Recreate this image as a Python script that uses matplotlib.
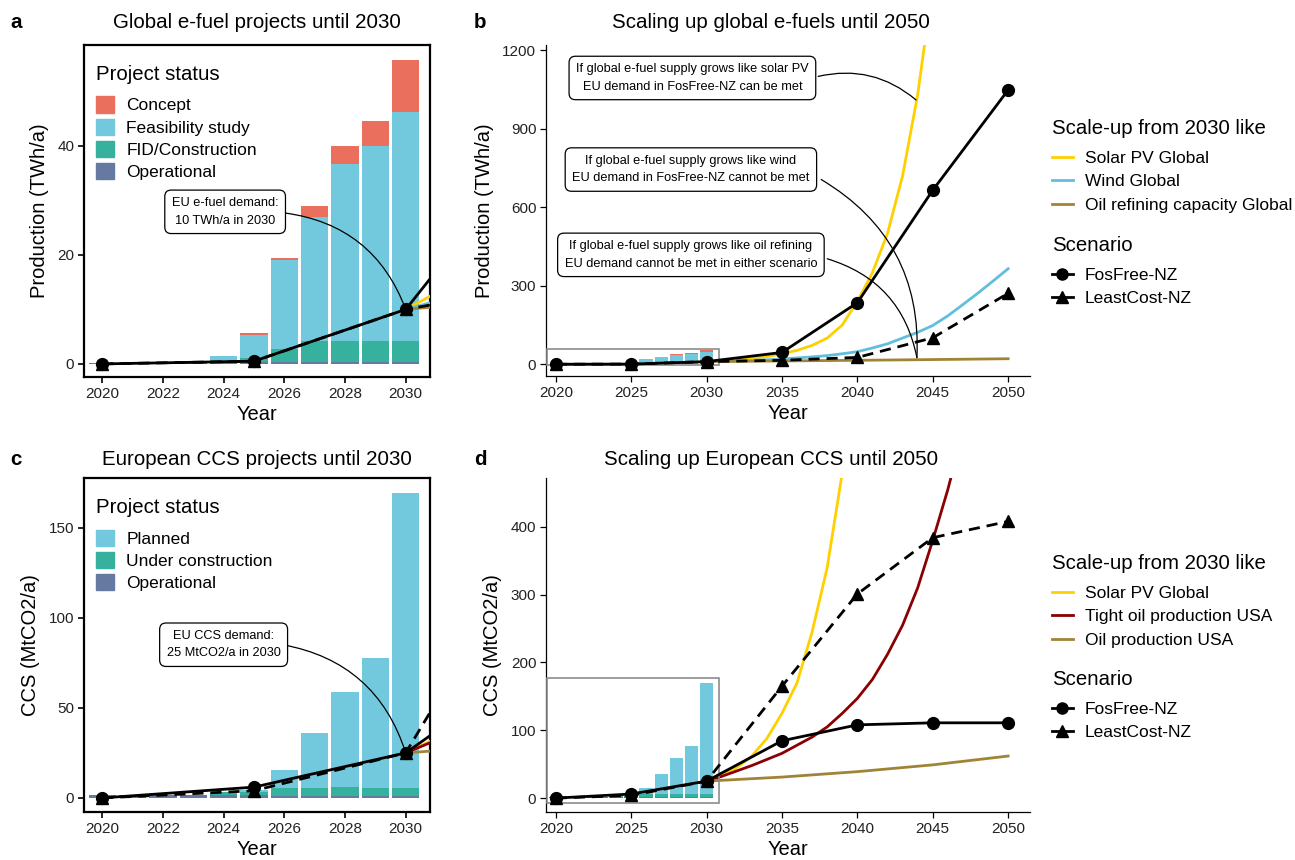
import matplotlib
matplotlib.use("Agg")
import matplotlib.pyplot as plt
from matplotlib.patches import Patch, Rectangle
from matplotlib.lines import Line2D

plt.rcParams['font.family'] = ['Liberation Sans', 'DejaVu Sans']

# --- project pipeline (bars) ---
years = [2020, 2021, 2022, 2023, 2024, 2025, 2026, 2027, 2028, 2029, 2030]

ef_operational = [0.15, 0.15, 0.15, 0.1, 0.1, 0.3, 0.4, 0.4, 0.4, 0.4, 0.4]
ef_fid = [0, 0, 0, 0, 0, 0.8, 2.3, 3.8, 3.8, 3.8, 3.8]
ef_feasibility = [0, 0, 0, 0, 1.3, 4.2, 16.4, 22.7, 32.4, 35.7, 42.1]
ef_concept = [0, 0, 0, 0, 0, 0.4, 0.4, 2.1, 3.4, 4.6, 9.5]

ccs_operational = [1.5, 1.5, 1.5, 1.5, 1.5, 1.5, 1.2, 1.2, 1.2, 1.2, 1.2]
ccs_construction = [0, 0, 0, 0, 2.0, 2.0, 4.3, 4.3, 5.0, 4.3, 4.3]
ccs_planned = [0, 0, 0, 0, 0, 1.0, 10.0, 30.5, 52.5, 72.0, 163.5]

# --- scenario demand ---
scen_years = [2020, 2025, 2030, 2035, 2040, 2045, 2050]
ef_fosfree = [0, 0.5, 10, 45, 235, 665, 1048]
ef_leastcost = [0, 0.5, 10, 15, 26, 101, 271]
ccs_fosfree = [0, 6, 25, 84.5, 108, 111, 111]
ccs_leastcost = [0, 4, 25, 165, 301, 384, 408]

# --- historical analogues, scaled from 2030 ---
solar_ef_years = list(range(2030, 2046))
solar_ef = [10, 13, 17, 22, 29, 40, 53, 72, 100, 150, 240, 350, 500, 720, 1030, 1450]
wind_ef_years = list(range(2030, 2051))
wind_ef = [10, 11.5, 13, 15, 17, 20, 24, 28, 33, 40, 48, 62, 78, 100, 122, 148,
           185, 228, 272, 318, 365]
refining_years = [2030, 2035, 2040, 2045, 2050]
refining_ef = [10, 12.5, 15, 17.8, 21]

solar_ccs_years = list(range(2030, 2040))
solar_ccs = [25, 33, 45, 62, 88, 125, 170, 245, 340, 480]
tight_oil_years = list(range(2030, 2048))
tight_oil_ccs = [25, 32, 40, 48, 57, 66, 78, 90, 105, 125, 147, 175, 212, 255,
                 310, 380, 455, 540]
oil_prod_years = [2030, 2035, 2040, 2045, 2050]
oil_prod_ccs = [25, 31, 39, 49, 62]

C_CONCEPT = '#EA6F5D'
C_FEAS = '#72C9DD'
C_FID = '#36B19D'
C_OPER = '#6579A1'
C_SOLAR = '#FFD000'
C_WIND = '#62BEDD'
C_OIL = '#A08436'
C_TIGHT = '#8B0000'

A_XLIM = (2019.4, 2030.8)
A_YLIM = (-2.4, 58.5)
C_YLIM = (-7.8, 177.5)
B_XLIM = (2019.35, 2051.45)
B_YLIM = (-45, 1220)
D_YLIM = (-20.5, 472)

FS_TITLE = 14.8
FS_AXIS = 14.5
FS_TICK = 11
FS_LEG_TITLE = 14.7
FS_LEG = 12.5
FS_NOTE = 9.2

W, H = 1295, 860
fig = plt.figure(figsize=(W / 100, H / 100), dpi=100)


def px_axes(l, t, r, b):
    return fig.add_axes([l / W, 1 - b / H, (r - l) / W, (b - t) / H])


ax_a = px_axes(84, 45, 430, 377)
ax_b = px_axes(546, 45, 1030, 376)
ax_c = px_axes(84, 478, 430, 812)
ax_d = px_axes(546, 478, 1030, 812)


def stack_bars(ax, layers):
    bottom = [0] * len(years)
    for vals, col in layers:
        ax.bar(years, vals, width=0.9, bottom=bottom, color=col, linewidth=0, zorder=2)
        bottom = [b + v for b, v in zip(bottom, vals)]


ef_layers = [(ef_operational, C_OPER), (ef_fid, C_FID),
             (ef_feasibility, C_FEAS), (ef_concept, C_CONCEPT)]
ccs_layers = [(ccs_operational, C_OPER), (ccs_construction, C_FID),
              (ccs_planned, C_FEAS)]


def scenario_lines(ax, fos, least):
    ax.plot(scen_years, least, color='black', lw=2, ls=(0, (4, 2.5)),
            marker='^', ms=8, zorder=5)
    ax.plot(scen_years, fos, color='black', lw=2, marker='o', ms=8.5, zorder=6)


def style(ax, boxed):
    for s in ['top', 'right']:
        ax.spines[s].set_visible(boxed)
    for s in ax.spines.values():
        s.set_linewidth(1.6 if boxed else 0.9)
        s.set_color('black')
    ax.tick_params(labelsize=FS_TICK, length=4, width=0.9 if not boxed else 1.2,
                   colors='black', labelcolor='#222222', pad=3)
    ax.set_xlabel('Year', fontsize=FS_AXIS, labelpad=3)


# panel a
stack_bars(ax_a, ef_layers)
ax_a.plot(solar_ef_years, solar_ef, color=C_SOLAR, lw=2, zorder=3)
ax_a.plot(wind_ef_years, wind_ef, color=C_WIND, lw=2, zorder=3)
ax_a.plot(refining_years, refining_ef, color=C_OIL, lw=2, zorder=3)
scenario_lines(ax_a, ef_fosfree, ef_leastcost)
ax_a.set_xlim(*A_XLIM)
ax_a.set_ylim(*A_YLIM)
ax_a.set_xticks([2020, 2022, 2024, 2026, 2028, 2030])
ax_a.set_yticks([0, 20, 40])
ax_a.set_ylabel('Production (TWh/a)', fontsize=FS_AXIS, labelpad=6)
style(ax_a, True)

# panel b
stack_bars(ax_b, ef_layers)
ax_b.add_patch(Rectangle((A_XLIM[0], A_YLIM[0]), A_XLIM[1] - A_XLIM[0],
                         A_YLIM[1] - A_YLIM[0], fill=False, ec='#8c8c8c', lw=1.2, zorder=4))
ax_b.plot(solar_ef_years, solar_ef, color=C_SOLAR, lw=2, zorder=3)
ax_b.plot(wind_ef_years, wind_ef, color=C_WIND, lw=2, zorder=3)
ax_b.plot(refining_years, refining_ef, color=C_OIL, lw=2, zorder=3)
scenario_lines(ax_b, ef_fosfree, ef_leastcost)
ax_b.set_xlim(*B_XLIM)
ax_b.set_ylim(*B_YLIM)
ax_b.set_xticks([2020, 2025, 2030, 2035, 2040, 2045, 2050])
ax_b.set_yticks([0, 300, 600, 900, 1200])
ax_b.set_ylabel('Production (TWh/a)', fontsize=FS_AXIS, labelpad=6)
style(ax_b, False)

# panel c
stack_bars(ax_c, ccs_layers)
ax_c.plot(solar_ccs_years, solar_ccs, color=C_SOLAR, lw=2, zorder=3)
ax_c.plot(tight_oil_years, tight_oil_ccs, color=C_TIGHT, lw=2, zorder=3)
ax_c.plot(oil_prod_years, oil_prod_ccs, color=C_OIL, lw=2, zorder=3)
scenario_lines(ax_c, ccs_fosfree, ccs_leastcost)
ax_c.set_xlim(*A_XLIM)
ax_c.set_ylim(*C_YLIM)
ax_c.set_xticks([2020, 2022, 2024, 2026, 2028, 2030])
ax_c.set_yticks([0, 50, 100, 150])
ax_c.set_ylabel('CCS (MtCO2/a)', fontsize=FS_AXIS, labelpad=6)
style(ax_c, True)

# panel d
stack_bars(ax_d, ccs_layers)
ax_d.add_patch(Rectangle((A_XLIM[0], C_YLIM[0]), A_XLIM[1] - A_XLIM[0],
                         C_YLIM[1] - C_YLIM[0], fill=False, ec='#8c8c8c', lw=1.2, zorder=4))
ax_d.plot(solar_ccs_years, solar_ccs, color=C_SOLAR, lw=2, zorder=3)
ax_d.plot(tight_oil_years, tight_oil_ccs, color=C_TIGHT, lw=2, zorder=3)
ax_d.plot(oil_prod_years, oil_prod_ccs, color=C_OIL, lw=2, zorder=3)
scenario_lines(ax_d, ccs_fosfree, ccs_leastcost)
ax_d.set_xlim(*B_XLIM)
ax_d.set_ylim(*D_YLIM)
ax_d.set_xticks([2020, 2025, 2030, 2035, 2040, 2045, 2050])
ax_d.set_yticks([0, 100, 200, 300, 400])
ax_d.set_ylabel('CCS (MtCO2/a)', fontsize=FS_AXIS, labelpad=6)
style(ax_d, False)

fig.align_ylabels([ax_a, ax_c])

# titles and panel letters
fig.text(257 / W, 1 - 23 / H, 'Global e-fuel projects until 2030', ha='center', va='center', fontsize=FS_TITLE)
fig.text(771 / W, 1 - 23 / H, 'Scaling up global e-fuels until 2050', ha='center', va='center', fontsize=FS_TITLE)
fig.text(257 / W, 1 - 459 / H, 'European CCS projects until 2030', ha='center', va='center', fontsize=FS_TITLE)
fig.text(771 / W, 1 - 459 / H, 'Scaling up European CCS until 2050', ha='center', va='center', fontsize=FS_TITLE)
for lab, x, y in [('a', 10, 22), ('b', 474, 22), ('c', 10, 460), ('d', 474, 460)]:
    fig.text(x / W, 1 - y / H, lab, ha='left', va='center', fontsize=FS_TITLE, fontweight='bold')

# annotations: boxed label plus a curved leader from the box edge
box = dict(boxstyle='round,pad=0.55,rounding_size=0.5', fc='white', ec='black', lw=0.9)


def note(ax, text, center, start, end, rad):
    ax.annotate('', xy=end, xytext=start, zorder=7,
                arrowprops=dict(arrowstyle='-', connectionstyle=f'arc3,rad={rad}',
                                color='black', lw=0.9, shrinkA=0, shrinkB=0))
    ax.text(*center, text, ha='center', va='center', fontsize=FS_NOTE,
            linespacing=1.6, bbox=box, zorder=8)


note(ax_a, 'EU e-fuel demand:\n10 TWh/a in 2030', (2024.05, 27.9), (2026.0, 27.7), (2030, 10), -0.3)
note(ax_c, 'EU CCS demand:\n25 MtCO2/a in 2030', (2024.0, 85), (2025.95, 85), (2030, 25), -0.3)
note(ax_b, 'If global e-fuel supply grows like solar PV\nEU demand in FosFree-NZ can be met',
     (2029.06, 1094), (2037.4, 1100), (2043.89, 1010), -0.25)
note(ax_b, 'If global e-fuel supply grows like wind\nEU demand in FosFree-NZ cannot be met',
     (2028.96, 744), (2037.6, 706), (2043.95, 25), -0.3)
note(ax_b, 'If global e-fuel supply grows like oil refining\nEU demand cannot be met in either scenario',
     (2028.96, 418), (2038.0, 403), (2043.95, 25), -0.3)

# legends
leg_kw = dict(frameon=False, alignment='left', title_fontsize=FS_LEG_TITLE, fontsize=FS_LEG,
              handletextpad=0.7, borderaxespad=0, borderpad=0)

ef_handles = [Patch(color=C_CONCEPT, label='Concept'),
              Patch(color=C_FEAS, label='Feasibility study'),
              Patch(color=C_FID, label='FID/Construction'),
              Patch(color=C_OPER, label='Operational')]
lg = ax_a.legend(handles=ef_handles, title='Project status', loc='upper left',
                 bbox_to_anchor=(0.035, 0.94), handlelength=1.05, handleheight=1.05,
                 labelspacing=0.3, **leg_kw)
lg._legend_box.sep = 9

ccs_handles = [Patch(color=C_FEAS, label='Planned'),
               Patch(color=C_FID, label='Under construction'),
               Patch(color=C_OPER, label='Operational')]
lg = ax_c.legend(handles=ccs_handles, title='Project status', loc='upper left',
                 bbox_to_anchor=(0.035, 0.94), handlelength=1.05, handleheight=1.05,
                 labelspacing=0.3, **leg_kw)
lg._legend_box.sep = 9

scen_handles = [Line2D([], [], color='black', lw=2, marker='o', ms=8, label='FosFree-NZ'),
                Line2D([], [], color='black', lw=2, marker='^', ms=8, label='LeastCost-NZ')]

b_scale = [Line2D([], [], color=C_SOLAR, lw=2, label='Solar PV Global'),
           Line2D([], [], color=C_WIND, lw=2, label='Wind Global'),
           Line2D([], [], color=C_OIL, lw=2, label='Oil refining capacity Global')]
d_scale = [Line2D([], [], color=C_SOLAR, lw=2, label='Solar PV Global'),
           Line2D([], [], color=C_TIGHT, lw=2, label='Tight oil production USA'),
           Line2D([], [], color=C_OIL, lw=2, label='Oil production USA')]

for handles, title, top in [(b_scale, 'Scale-up from 2030 like', 119),
                            (scen_handles, 'Scenario', 236),
                            (d_scale, 'Scale-up from 2030 like', 554),
                            (scen_handles, 'Scenario', 670)]:
    lg = fig.legend(handles=handles, title=title, loc='upper left',
                    bbox_to_anchor=(1052 / W, 1 - top / H), handlelength=1.2,
                    labelspacing=0.48, **leg_kw)
    lg._legend_box.sep = 9

fig.savefig('out.png', dpi=100)
